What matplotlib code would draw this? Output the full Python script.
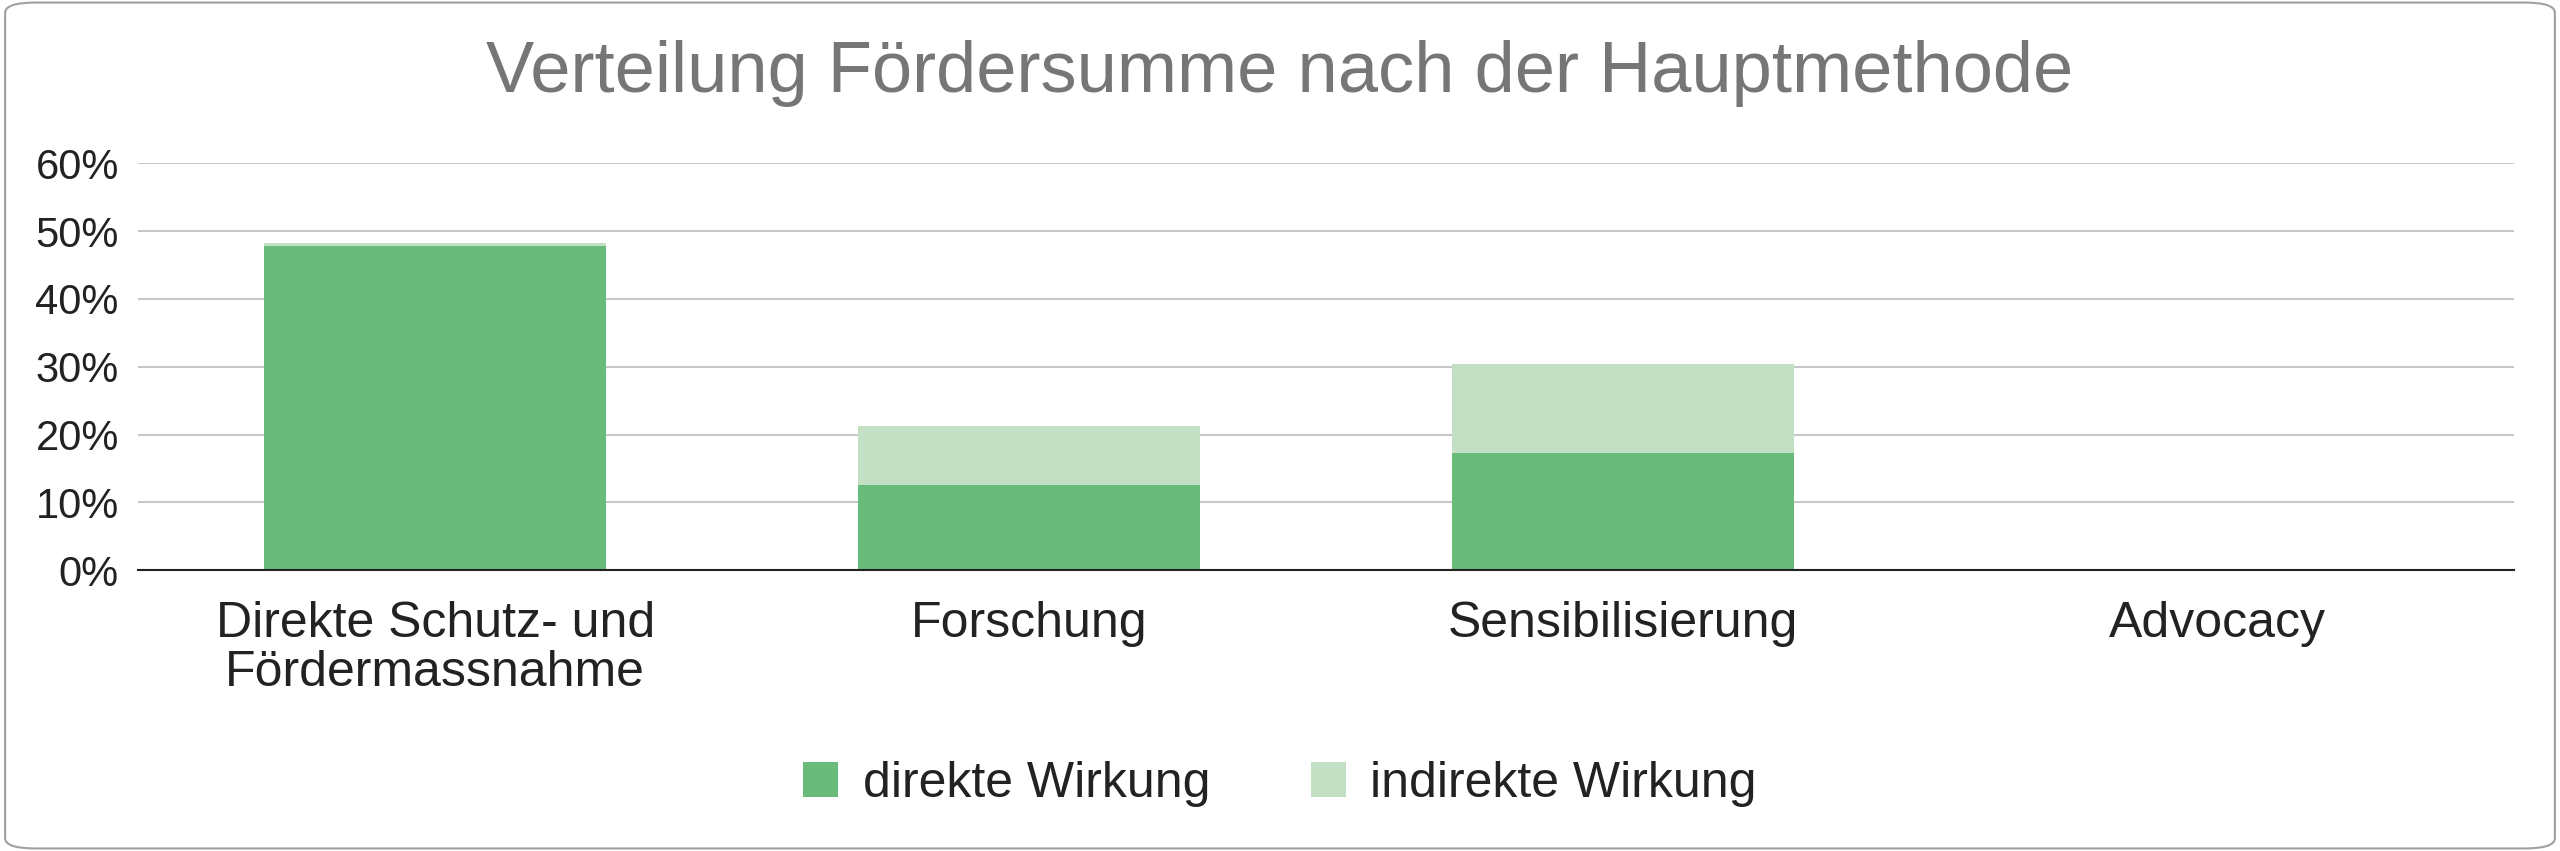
import numpy as np
import matplotlib
matplotlib.use("Agg")
import matplotlib.pyplot as plt
from matplotlib.patches import FancyBboxPatch

plt.rcParams["font.family"] = ["Liberation Sans", "DejaVu Sans"]

categories = ["Direkte Schutz- und\nFördermassnahme", "Forschung", "Sensibilisierung", "Advocacy"]
direkt = [47.8, 12.5, 17.3, 0.0]
indirekt = [0.5, 8.8, 13.1, 0.0]

C_DIR = "#68bb7b"
C_IND = "#c3e0c4"

fig = plt.figure(figsize=(25.6, 8.51), dpi=100)
fig.patches.append(FancyBboxPatch((0.002, 0.003), 0.996, 0.994, boxstyle="round,pad=0,rounding_size=0.012",
                                  transform=fig.transFigure, fc="white", ec="#a0a0a0", lw=1.5, zorder=-5))
ax = fig.add_axes([0.054, 0.330, 0.928, 0.478])
ax.patch.set_alpha(0)
x = np.arange(len(categories))
ax.bar(x, direkt, width=0.575, color=C_DIR, label="direkte Wirkung", zorder=3)
ax.bar(x, indirekt, width=0.575, bottom=direkt, color=C_IND, label="indirekte Wirkung", zorder=3)

ax.set_xlim(-0.5, 3.5)
ax.set_ylim(0, 60)
ax.set_yticks(range(0, 61, 10))
ax.set_yticklabels([f"{v}%" for v in range(0, 61, 10)], fontsize=30, color="#222222")
ax.set_xticks(x)
ax.set_xticklabels(categories, fontsize=36, color="#222222", linespacing=1.1)
ax.tick_params(length=0, pad=14)
ax.tick_params(axis="x", pad=22)
ax.grid(axis="y", color="#c8c8c8", lw=1.5, zorder=0)
for s in ["top", "right", "left"]:
    ax.spines[s].set_visible(False)
ax.spines["bottom"].set_color("#222222")
ax.spines["bottom"].set_linewidth(1.5)
ax.spines["bottom"].set_zorder(4)

fig.text(0.5, 0.914, "Verteilung Fördersumme nach der Hauptmethode", ha="center", va="center",
         fontsize=52, color="#767676")
fig.legend(loc="center", bbox_to_anchor=(0.5, 0.079), ncol=2, frameon=False, fontsize=36,
           handlelength=0.7, handleheight=0.7, columnspacing=2.0, handletextpad=0.5,
           labelcolor="#222222")

fig.savefig("out.png", dpi=100)
